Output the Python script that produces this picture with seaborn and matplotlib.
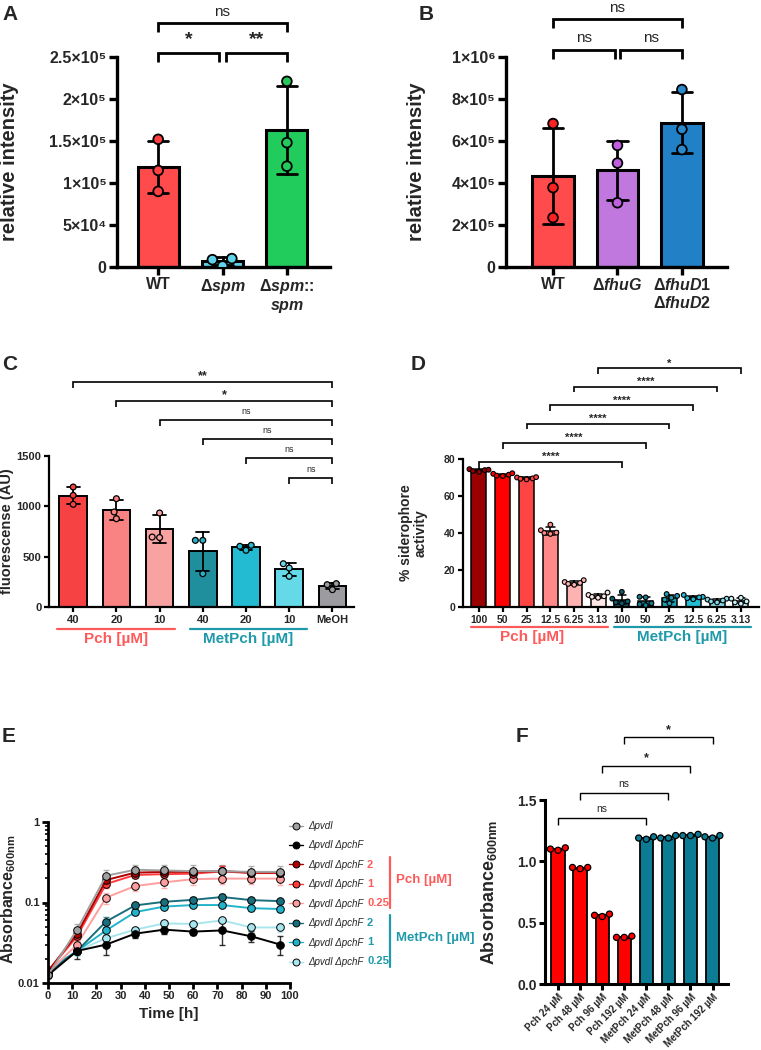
import numpy as np
import pandas as pd
import matplotlib
matplotlib.use("Agg")
import matplotlib.pyplot as plt
import seaborn as sns
from matplotlib.lines import Line2D
import matplotlib.ticker as mticker

sns.set_theme(style="ticks")
plt.rcParams["font.family"] = ["Liberation Sans", "DejaVu Sans"]
plt.rcParams["font.weight"] = "bold"
plt.rcParams["axes.labelweight"] = "bold"
plt.rcParams["mathtext.fontset"] = "custom"
plt.rcParams["mathtext.rm"] = "Liberation Sans:bold"
plt.rcParams["mathtext.it"] = "Liberation Sans:italic:bold"
plt.rcParams["mathtext.bf"] = "Liberation Sans:bold"

# ---------------- DATA ----------------
# Panel A (relative intensity)
a_cats = ["WT", "dspm", "dspm_spm"]
a_ticklabels = ["WT", r"$\Delta\mathit{spm}$", r"$\Delta\mathit{spm}$::" + "\n" + r"$\mathit{spm}$"]
a_wt = [1.52e5, 1.15e5, 0.90e5]
a_spm = [1.2e3, 1.0e4, 8.7e3]
a_comp = [2.21e5, 1.48e5, 1.20e5]
a_yticks = [0, 5e4, 1e5, 1.5e5, 2e5, 2.5e5]
a_yticklabels = ["0", "5×10⁴", "1×10⁵", "1.5×10⁵", "2×10⁵", "2.5×10⁵"]
a_sig = ["*", "**", "ns"]

# Panel B
b_cats = ["WT", "dfhuG", "dfhuD"]
b_ticklabels = ["WT", r"$\Delta\mathit{fhuG}$", r"$\Delta\mathit{fhuD1}$" + "\n" + r"$\Delta\mathit{fhuD2}$"]
b_wt = [6.83e5, 3.78e5, 2.35e5]
b_fhuG = [5.79e5, 4.95e5, 3.06e5]
b_fhuD = [8.45e5, 6.56e5, 5.59e5]
b_yticks = [0, 2e5, 4e5, 6e5, 8e5, 1e6]
b_yticklabels = ["0", "2×10⁵", "4×10⁵", "6×10⁵", "8×10⁵", "1×10⁶"]
b_sig = ["ns", "ns", "ns"]

# Panel C (fluorescence)
c_cats = ["P40", "P20", "P10", "M40", "M20", "M10", "MeOH"]
c_ticklabels = ["40", "20", "10", "40", "20", "10", "MeOH"]
c_p40 = [1192, 1109, 1020]
c_p20 = [1076, 944, 877]
c_p10 = [934, 690, 695]
c_m40 = [662, 662, 331]
c_m20 = [613, 603, 563]
c_m10 = [430, 387, 305]
c_meoh = [232, 222, 172]
c_sig = ["**", "*", "ns", "ns", "ns", "ns"]

# Panel D (% siderophore activity)
d_conc = ["100", "50", "25", "12.5", "6.25", "3.13"]
d_pch = [
    [74.5, 73.5, 74.0, 73.0, 74.2],
    [72.0, 71.0, 71.5, 72.3, 70.8],
    [70.0, 69.5, 69.0, 70.2, 69.3],
    [44.5, 41.5, 40.0, 39.5, 40.2],
    [14.5, 13.5, 12.5, 13.0, 12.0],
    [7.8, 6.5, 5.5, 5.0, 5.8],
]
d_met = [
    [8.2, 4.5, 3.0, 2.0, 2.5],
    [5.5, 5.2, 2.0, 1.5, 1.0],
    [7.0, 6.0, 5.0, 4.0, 2.0],
    [6.5, 5.5, 5.2, 4.8, 4.2],
    [4.5, 4.0, 3.5, 3.0, 2.5],
    [5.0, 4.5, 3.0, 2.5, 1.8],
]
d_sig = ["****", "****", "****", "****", "****", "*"]

# Panel E (growth curves)
e_time = [0, 12, 24, 36, 48, 60, 72, 84, 96]
e_series = ["pvdI", "pvdI_pchF", "Pch2", "Pch1", "Pch025", "Met2", "Met1", "Met025"]
e_gray = [0.0125, 0.046, 0.215, 0.255, 0.250, 0.245, 0.245, 0.240, 0.240]
e_black = [0.0125, 0.025, 0.030, 0.041, 0.046, 0.0435, 0.045, 0.038, 0.030]
e_pch2 = [0.014, 0.041, 0.190, 0.235, 0.240, 0.240, 0.245, 0.235, 0.235]
e_pch1 = [0.014, 0.038, 0.170, 0.220, 0.225, 0.228, 0.243, 0.232, 0.232]
e_pch025 = [0.0135, 0.030, 0.115, 0.160, 0.178, 0.195, 0.198, 0.198, 0.198]
e_met2 = [0.0135, 0.025, 0.058, 0.092, 0.102, 0.108, 0.117, 0.107, 0.104]
e_met1 = [0.0145, 0.025, 0.045, 0.076, 0.089, 0.093, 0.093, 0.085, 0.083]
e_met025 = [0.0145, 0.025, 0.036, 0.046, 0.055, 0.054, 0.060, 0.049, 0.049]
e_gray_sd = [0.001, 0.008, 0.035, 0.035, 0.040, 0.045, 0.045, 0.045, 0.045]
e_black_sd = [0.001, 0.005, 0.008, 0.005, 0.005, 0.004, 0.015, 0.006, 0.008]
e_pch2_sd = [0.001, 0.004, 0.020, 0.020, 0.020, 0.020, 0.040, 0.020, 0.020]
e_pch1_sd = [0.001, 0.004, 0.020, 0.020, 0.020, 0.020, 0.040, 0.020, 0.020]
e_pch025_sd = [0.001, 0.003, 0.018, 0.020, 0.025, 0.030, 0.030, 0.030, 0.035]
e_met2_sd = [0.001, 0.003, 0.008, 0.008, 0.009, 0.010, 0.011, 0.008, 0.005]
e_met1_sd = [0.001, 0.003, 0.005, 0.006, 0.006, 0.006, 0.006, 0.006, 0.006]
e_met025_sd = [0.001, 0.003, 0.003, 0.003, 0.004, 0.004, 0.004, 0.006, 0.006]
e_legend = ["ΔpvdI", "ΔpvdI ΔpchF", "ΔpvdI ΔpchF", "ΔpvdI ΔpchF", "ΔpvdI ΔpchF",
            "ΔpvdI ΔpchF", "ΔpvdI ΔpchF", "ΔpvdI ΔpchF"]
e_conc = ["", "", "2", "1", "0.25", "2", "1", "0.25"]

# Panel F
f_cats = ["Pch 24 µM", "Pch 48 µM", "Pch 96 µM", "Pch 192 µM",
          "MetPch 24 µM", "MetPch 48 µM", "MetPch 96 µM", "MetPch 192 µM"]
f_vals = [
    [1.10, 1.11, 1.09],
    [0.95, 0.94, 0.95],
    [0.56, 0.57, 0.55],
    [0.38, 0.39, 0.38],
    [1.19, 1.20, 1.18],
    [1.19, 1.21, 1.19],
    [1.21, 1.22, 1.21],
    [1.20, 1.21, 1.19],
]
f_sig = ["ns", "ns", "*", "*"]

# ---------------- COLOURS ----------------
RED_TXT = "#FF5A5A"
TEAL_TXT = "#1E9AAA"
a_bar_cols = ["#FF4B4B", "#5ED3EA", "#21CC5C"]
a_pt_cols = ["#FF4040", "#5ED3EA", "#25C95A"]
b_bar_cols = ["#FF4B4B", "#C078DE", "#2281C6"]
b_pt_cols = ["#FF2020", "#C060E0", "#2A8ACD"]
c_bar_cols = ["#F64242", "#F98282", "#F9A2A2", "#1F8E9D", "#22BBD2", "#66D9E9", "#9C9CA0"]
c_pt_cols = ["#F64242", "#F98282", "#F9A2A2", "#27B2C8", "#22BBD2", "#66D9E9", "#9C9CA0"]
d_cols = ["#9A0000", "#FF0000", "#FF4444", "#FF8888", "#FFB2B2", "#FFE6E6",
          "#0D5A69", "#137D8F", "#1A9FB4", "#23BCD3", "#85DCE8", "#C9F0F5"]
e_cols = ["#A0A0A0", "#000000", "#B00000", "#FF3A3A", "#FF9E9E", "#1A6F7E", "#22B3CB", "#A8E6EF"]
f_cols = ["#FF0000"] * 4 + ["#0B7C94"] * 4

W, H = 761, 1050
fig = plt.figure(figsize=(W / 100, H / 100), dpi=100)


def rect(l, t, r, b):
    return [l / W, 1 - b / H, (r - l) / W, (b - t) / H]


def bar_swarm(ax, groups, cats, bar_cols, pt_cols, width, lw, capsize, err_lw, pt_size, pt_lw):
    df = pd.DataFrame({"cat": np.repeat(cats, [len(g) for g in groups]),
                       "val": np.concatenate([np.asarray(g, float) for g in groups])})
    sns.barplot(data=df, x="cat", y="val", hue="cat", order=cats, hue_order=cats,
                palette=dict(zip(cats, bar_cols)), errorbar="sd", capsize=capsize,
                err_kws={"color": "black", "linewidth": err_lw}, width=width,
                saturation=1, edgecolor="black", linewidth=lw, legend=False,
                dodge=False, ax=ax)
    n0 = len(ax.collections)
    sns.swarmplot(data=df, x="cat", y="val", hue="cat", order=cats, hue_order=cats,
                  palette=dict(zip(cats, pt_cols)), size=pt_size, edgecolor="black",
                  linewidth=pt_lw, legend=False, dodge=False, warn_thresh=1, ax=ax)
    for c in ax.collections[n0:]:
        c.set_zorder(4)
    ax.set_xlabel("")
    ax.set_ylabel("")


def bracket(ax, x1, x2, y, h, text, fs, lw, tpad, weight="bold"):
    ax.plot([x1, x1, x2, x2], [y - h, y, y, y - h], color="black", lw=lw,
            clip_on=False, solid_capstyle="butt", solid_joinstyle="miter")
    ax.text((x1 + x2) / 2, y + tpad, text, ha="center", va="center", fontsize=fs,
            fontweight=weight, clip_on=False)


def style_axis(ax, spine_lw, tick_len, labelsize):
    sns.despine(ax=ax)
    for s in ["left", "bottom"]:
        ax.spines[s].set_linewidth(spine_lw)
        ax.spines[s].set_color("black")
    ax.tick_params(axis="both", which="major", length=tick_len, width=spine_lw,
                   color="black", labelsize=labelsize, pad=2, direction="out")


# ---------------- PANEL A ----------------
axA = fig.add_axes(rect(117, 57, 330, 267))
bar_swarm(axA, [a_wt, a_spm, a_comp], a_cats, a_bar_cols, a_pt_cols,
          0.64, 2.2, 0.32, 2.0, 7, 1.3)
axA.set_xlim(-0.64, 2.67)
axA.set_ylim(0, 2.5e5)
axA.set_yticks(a_yticks)
axA.set_yticklabels(a_yticklabels)
axA.set_xticks(range(3))
axA.set_xticklabels(a_ticklabels, linespacing=1.1)
style_axis(axA, 2.4, 5.5, 11.5)
axA.set_ylabel("relative intensity", fontsize=14.5, fontweight="bold")
axA.yaxis.set_label_coords(-0.46, 0.5)
bracket(axA, 0, 0.95, 2.55e5, 1.1e4, a_sig[0], 14, 2.0, 1.6e4)
bracket(axA, 1.05, 2, 2.55e5, 1.1e4, a_sig[1], 14, 2.0, 1.6e4)
bracket(axA, 0, 2, 2.90e5, 1.0e4, a_sig[2], 11, 2.0, 1.4e4, weight="normal")

# ---------------- PANEL B ----------------
axB = fig.add_axes(rect(506, 57, 727, 267))
bar_swarm(axB, [b_wt, b_fhuG, b_fhuD], b_cats, b_bar_cols, b_pt_cols,
          0.64, 2.2, 0.32, 2.0, 7, 1.3)
axB.set_xlim(-0.73, 2.7)
axB.set_ylim(0, 1e6)
axB.set_yticks(b_yticks)
axB.set_yticklabels(b_yticklabels)
axB.set_xticks(range(3))
axB.set_xticklabels(b_ticklabels, linespacing=1.1)
style_axis(axB, 2.4, 5.5, 11.5)
axB.set_ylabel("relative intensity", fontsize=14.5, fontweight="bold")
axB.yaxis.set_label_coords(-0.36, 0.5)
bracket(axB, 0, 0.96, 1.033e6, 4.3e4, b_sig[0], 11, 2.0, 5.8e4, weight="normal")
bracket(axB, 1.04, 2, 1.033e6, 4.3e4, b_sig[1], 11, 2.0, 5.8e4, weight="normal")
bracket(axB, 0, 2, 1.18e6, 4.3e4, b_sig[2], 11, 2.0, 5.4e4, weight="normal")

# ---------------- PANEL C ----------------
axC = fig.add_axes(rect(49, 456, 354, 607))
bar_swarm(axC, [c_p40, c_p20, c_p10, c_m40, c_m20, c_m10, c_meoh], c_cats,
          c_bar_cols, c_pt_cols, 0.64, 1.4, 0.3, 1.3, 4.2, 0.9)
axC.set_xlim(-0.56, 6.5)
axC.set_ylim(0, 1500)
axC.set_yticks([0, 500, 1000, 1500])
axC.set_xticks(range(7))
axC.set_xticklabels(c_ticklabels)
style_axis(axC, 1.6, 3.5, 8)
axC.set_ylabel("fluorescense (AU)", fontsize=10.5, fontweight="bold")
axC.yaxis.set_label_coords(-0.115, 0.5)
c_ys = [2235, 2046, 1858, 1669, 1480, 1281]
for i, (yy, s) in enumerate(zip(c_ys, c_sig)):
    if s == "ns":
        bracket(axC, i, 6, yy, 60, s, 6.5, 1.2, 80, weight="normal")
    else:
        bracket(axC, i, 6, yy, 60, s, 9, 1.2, 55)
tr = axC.get_xaxis_transform()
axC.plot([-0.37, 2.36], [-0.146, -0.146], color=RED_TXT, lw=1.6, transform=tr, clip_on=False)
axC.plot([2.71, 5.42], [-0.146, -0.146], color=TEAL_TXT, lw=1.6, transform=tr, clip_on=False)
axC.text(1.0, -0.215, "Pch [µM]", color=RED_TXT, fontsize=11, ha="center", va="center", transform=tr)
axC.text(4.06, -0.215, "MetPch [µM]", color=TEAL_TXT, fontsize=11, ha="center", va="center", transform=tr)

# ---------------- PANEL D ----------------
axD = fig.add_axes(rect(463, 459, 759, 607))
d_cats = ["P" + c for c in d_conc] + ["M" + c for c in d_conc]
bar_swarm(axD, d_pch + d_met, d_cats, d_cols, d_cols, 0.63, 1.1, 0.35, 1.1, 3.4, 0.8)
axD.set_xlim(-0.67, 11.76)
axD.set_ylim(0, 80)
axD.set_yticks([0, 20, 40, 60, 80])
axD.set_xticks(range(12))
axD.set_xticklabels(d_conc + d_conc)
style_axis(axD, 1.6, 3.5, 7.5)
axD.set_ylabel("% siderophore\nactivity", fontsize=10, fontweight="bold", linespacing=1.0)
axD.yaxis.set_label_coords(-0.12, 0.5)
d_ys = [78.4, 88.6, 99.0, 109.0, 119.0, 129.0]
for i, (yy, s) in enumerate(zip(d_ys, d_sig)):
    bracket(axD, i, i + 6, yy, 3.0, s, 8, 1.2, 2.6)
tr = axD.get_xaxis_transform()
axD.plot([-0.34, 5.42], [-0.135, -0.135], color=RED_TXT, lw=1.6, transform=tr, clip_on=False)
axD.plot([5.67, 11.43], [-0.135, -0.135], color=TEAL_TXT, lw=1.6, transform=tr, clip_on=False)
axD.text(2.25, -0.205, "Pch [µM]", color=RED_TXT, fontsize=11, ha="center", va="center", transform=tr)
axD.text(8.55, -0.205, "MetPch [µM]", color=TEAL_TXT, fontsize=11, ha="center", va="center", transform=tr)

# ---------------- PANEL E ----------------
axE = fig.add_axes(rect(48, 822, 290, 983))
e_vals = [e_gray, e_black, e_pch2, e_pch1, e_pch025, e_met2, e_met1, e_met025]
e_sds = [e_gray_sd, e_black_sd, e_pch2_sd, e_pch1_sd, e_pch025_sd, e_met2_sd, e_met1_sd, e_met025_sd]
dfE = pd.DataFrame({
    "series": np.repeat(e_series, len(e_time)),
    "time": np.tile(e_time, len(e_series)),
    "val": np.concatenate(e_vals),
})
for name, v, sd, col in zip(e_series, e_vals, e_sds, e_cols):
    axE.errorbar(e_time, v, yerr=sd, fmt="none", ecolor=col, elinewidth=1.0,
                 capsize=2.5, capthick=1.0, alpha=0.8, zorder=1)
draw_order = ["Met025", "Met1", "Met2", "Pch025", "Pch1", "Pch2", "pvdI_pchF", "pvdI"]
sns.lineplot(data=dfE, x="time", y="val", hue="series", hue_order=draw_order,
             palette=dict(zip(e_series, e_cols)), marker="o", markersize=5.5,
             markeredgecolor="black", markeredgewidth=0.7, linewidth=1.4,
             legend=False, ax=axE)
axE.set_yscale("log")
axE.set_xlim(0, 100)
axE.set_ylim(0.01, 1)
axE.set_xticks(range(0, 101, 10))
axE.set_yticks([0.01, 0.1, 1])
axE.set_yticklabels(["0.01", "0.1", "1"])
axE.yaxis.set_minor_locator(mticker.LogLocator(base=10, subs=np.arange(2, 10)))
axE.yaxis.set_minor_formatter(mticker.NullFormatter())
style_axis(axE, 2.0, 4, 8)
axE.tick_params(axis="y", which="minor", length=2.5, width=1.2, color="black")
axE.set_xlabel("Time [h]", fontsize=11, fontweight="bold", labelpad=4)
axE.set_ylabel(r"Absorbance$_{\mathregular{600nm}}$", fontsize=11.5, fontweight="bold")
axE.yaxis.set_label_coords(-0.122, 0.52)

handles = [Line2D([], [], color=c, lw=1.0, marker="o", markersize=5,
                  markeredgecolor="black", markeredgewidth=0.7) for c in e_cols]
leg = fig.legend(handles, e_legend, loc="upper left",
                 bbox_to_anchor=(289 / W, 1 - 821 / H), frameon=False,
                 fontsize=7, handlelength=1.4, handletextpad=0.6, labelspacing=0.97,
                 borderaxespad=0, borderpad=0)
for t in leg.get_texts():
    t.set_fontstyle("italic")
    t.set_fontweight("normal")
row_y = [826 + i * 19.3 for i in range(8)]
for i, (txt, yy) in enumerate(zip(e_conc, row_y)):
    if txt:
        fig.text(367 / W, 1 - yy / H, txt, color=RED_TXT if i < 5 else TEAL_TXT,
                 fontsize=8, fontweight="bold", va="center", ha="left")
fig.add_artist(Line2D([390 / W, 390 / W], [1 - 857 / H, 1 - 908 / H], color=RED_TXT, lw=1.6))
fig.add_artist(Line2D([390 / W, 390 / W], [1 - 915 / H, 1 - 967 / H], color=TEAL_TXT, lw=1.6))
fig.text(396 / W, 1 - 880 / H, "Pch [µM]", color=RED_TXT, fontsize=9.5, fontweight="bold", va="center")
fig.text(396 / W, 1 - 938 / H, "MetPch [µM]", color=TEAL_TXT, fontsize=9.5, fontweight="bold", va="center")

# ---------------- PANEL F ----------------
axF = fig.add_axes(rect(545, 800, 728, 984))
bar_swarm(axF, f_vals, f_cats, f_cols, f_cols, 0.6, 1.3, 0.3, 1.0, 4.4, 0.9)
axF.set_xlim(-0.59, 7.7)
axF.set_ylim(0, 1.5)
axF.set_yticks([0, 0.5, 1.0, 1.5])
axF.set_yticklabels(["0.0", "0.5", "1.0", "1.5"])
style_axis(axF, 2.2, 4, 10)
axF.set_xticks(range(8))
axF.set_xticklabels(f_cats, rotation=45, ha="right", rotation_mode="anchor", fontsize=7)
axF.set_ylabel(r"Absorbance$_{\mathregular{600nm}}$", fontsize=13, fontweight="bold")
axF.yaxis.set_label_coords(-0.25, 0.5)
f_ys = [1.353, 1.557, 1.777, 2.01]
for i, (yy, s) in enumerate(zip(f_ys, f_sig)):
    if s == "ns":
        bracket(axF, i, i + 4, yy, 0.057, s, 7.5, 1.0, 0.07, weight="normal")
    else:
        bracket(axF, i, i + 4, yy, 0.057, s, 9, 1.0, 0.06)

# ---------------- PANEL LETTERS ----------------
for lab, (x, y) in zip("ABCDEF", [(10, 14), (426, 14), (10, 365), (418, 365), (9, 737), (522, 737)]):
    fig.text(x / W, 1 - y / H, lab, fontsize=15, fontweight="bold", ha="center", va="center")

fig.savefig("out.png", dpi=100)
